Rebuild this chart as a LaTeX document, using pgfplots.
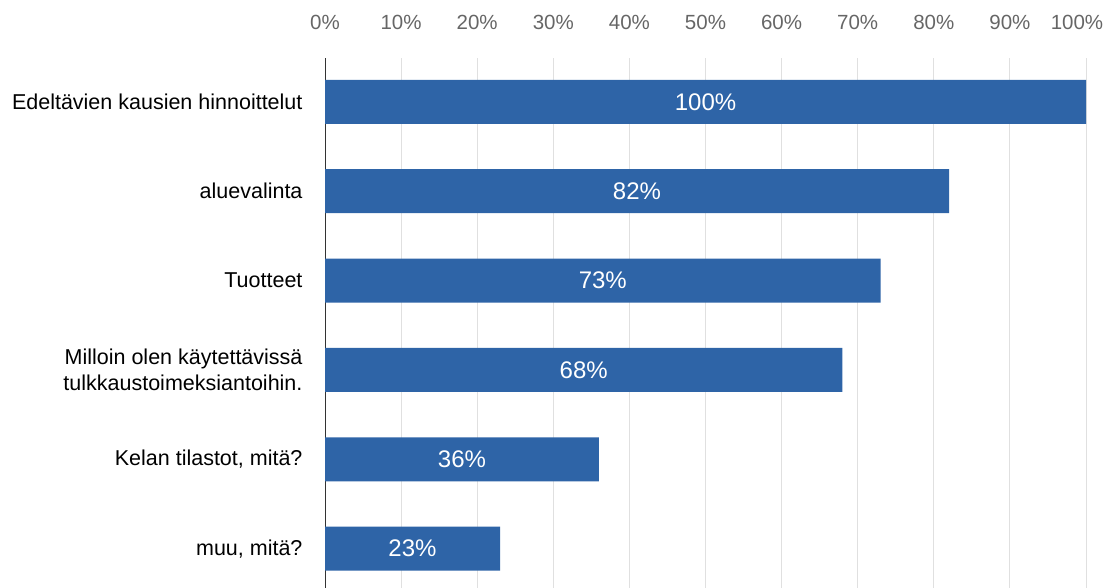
\documentclass[border=0pt]{standalone}
\usepackage{pgfplots}
\pgfplotsset{compat=1.18}
\usepackage{pgfplotstable}
\usepackage{fontspec}
\setmainfont{Liberation Sans}
\definecolor{barblue}{HTML}{2E64A7}
\definecolor{gridgray}{HTML}{E0E0E0}
\definecolor{ticktext}{HTML}{666666}
\pgfplotstableread{
idx val
0 100
1 82
2 73
3 68
4 36
5 23
}\data
\begin{document}
\begin{tikzpicture}
\path[use as bounding box] (0,0) rectangle (1113pt,588pt);
\begin{axis}[
  at={(325pt,0pt)}, anchor=south west,
  scale only axis, width=761pt, height=530pt,
  xmin=0, xmax=100, ymin=-0.49, ymax=5.44, y dir=reverse,
  axis x line*=top, axis y line*=left,
  x axis line style={draw=none},
  y axis line style={draw=black!80, line width=1pt},
  /pgf/number format/assume math mode=true,
  xtick={0,10,...,100},
  xticklabels={0\%,10\%,20\%,30\%,40\%,50\%,60\%,70\%,80\%,90\%,\hspace*{-18pt}100\%},
  xticklabel style={font=\fontsize{20.5}{24}\selectfont, text=ticktext, yshift=25pt},
  ytick={0,1,2,3,4,5},
  yticklabels={Edeltävien kausien hinnoittelut, aluevalinta, Tuotteet, {Milloin olen käytettävissä\\tulkkaustoimeksiantoihin.}, {Kelan tilastot, mitä?}, {muu, mitä?}},
  yticklabel style={font=\fontsize{21.5}{26}\selectfont, align=right, text=black, xshift=-19pt},
  major tick length=0pt,
  ymajorgrids=false, xmajorgrids=true,
  grid style={gridgray, line width=1pt},
  clip=false,
]
\addplot[xbar, fill=barblue, draw=none, bar width=44pt,
  point meta=explicit,
  nodes near coords={\pgfmathprintnumber[assume math mode=true]{\pgfplotspointmeta}\%},
  visualization depends on={rawx \as \val},
  every node near coord/.append style={anchor=center, text=white, font=\fontsize{24}{28}\selectfont, xshift={-\val*3.805pt}},
] table[x=val, y=idx, meta=val] {\data};
\end{axis}
\end{tikzpicture}
\end{document}
